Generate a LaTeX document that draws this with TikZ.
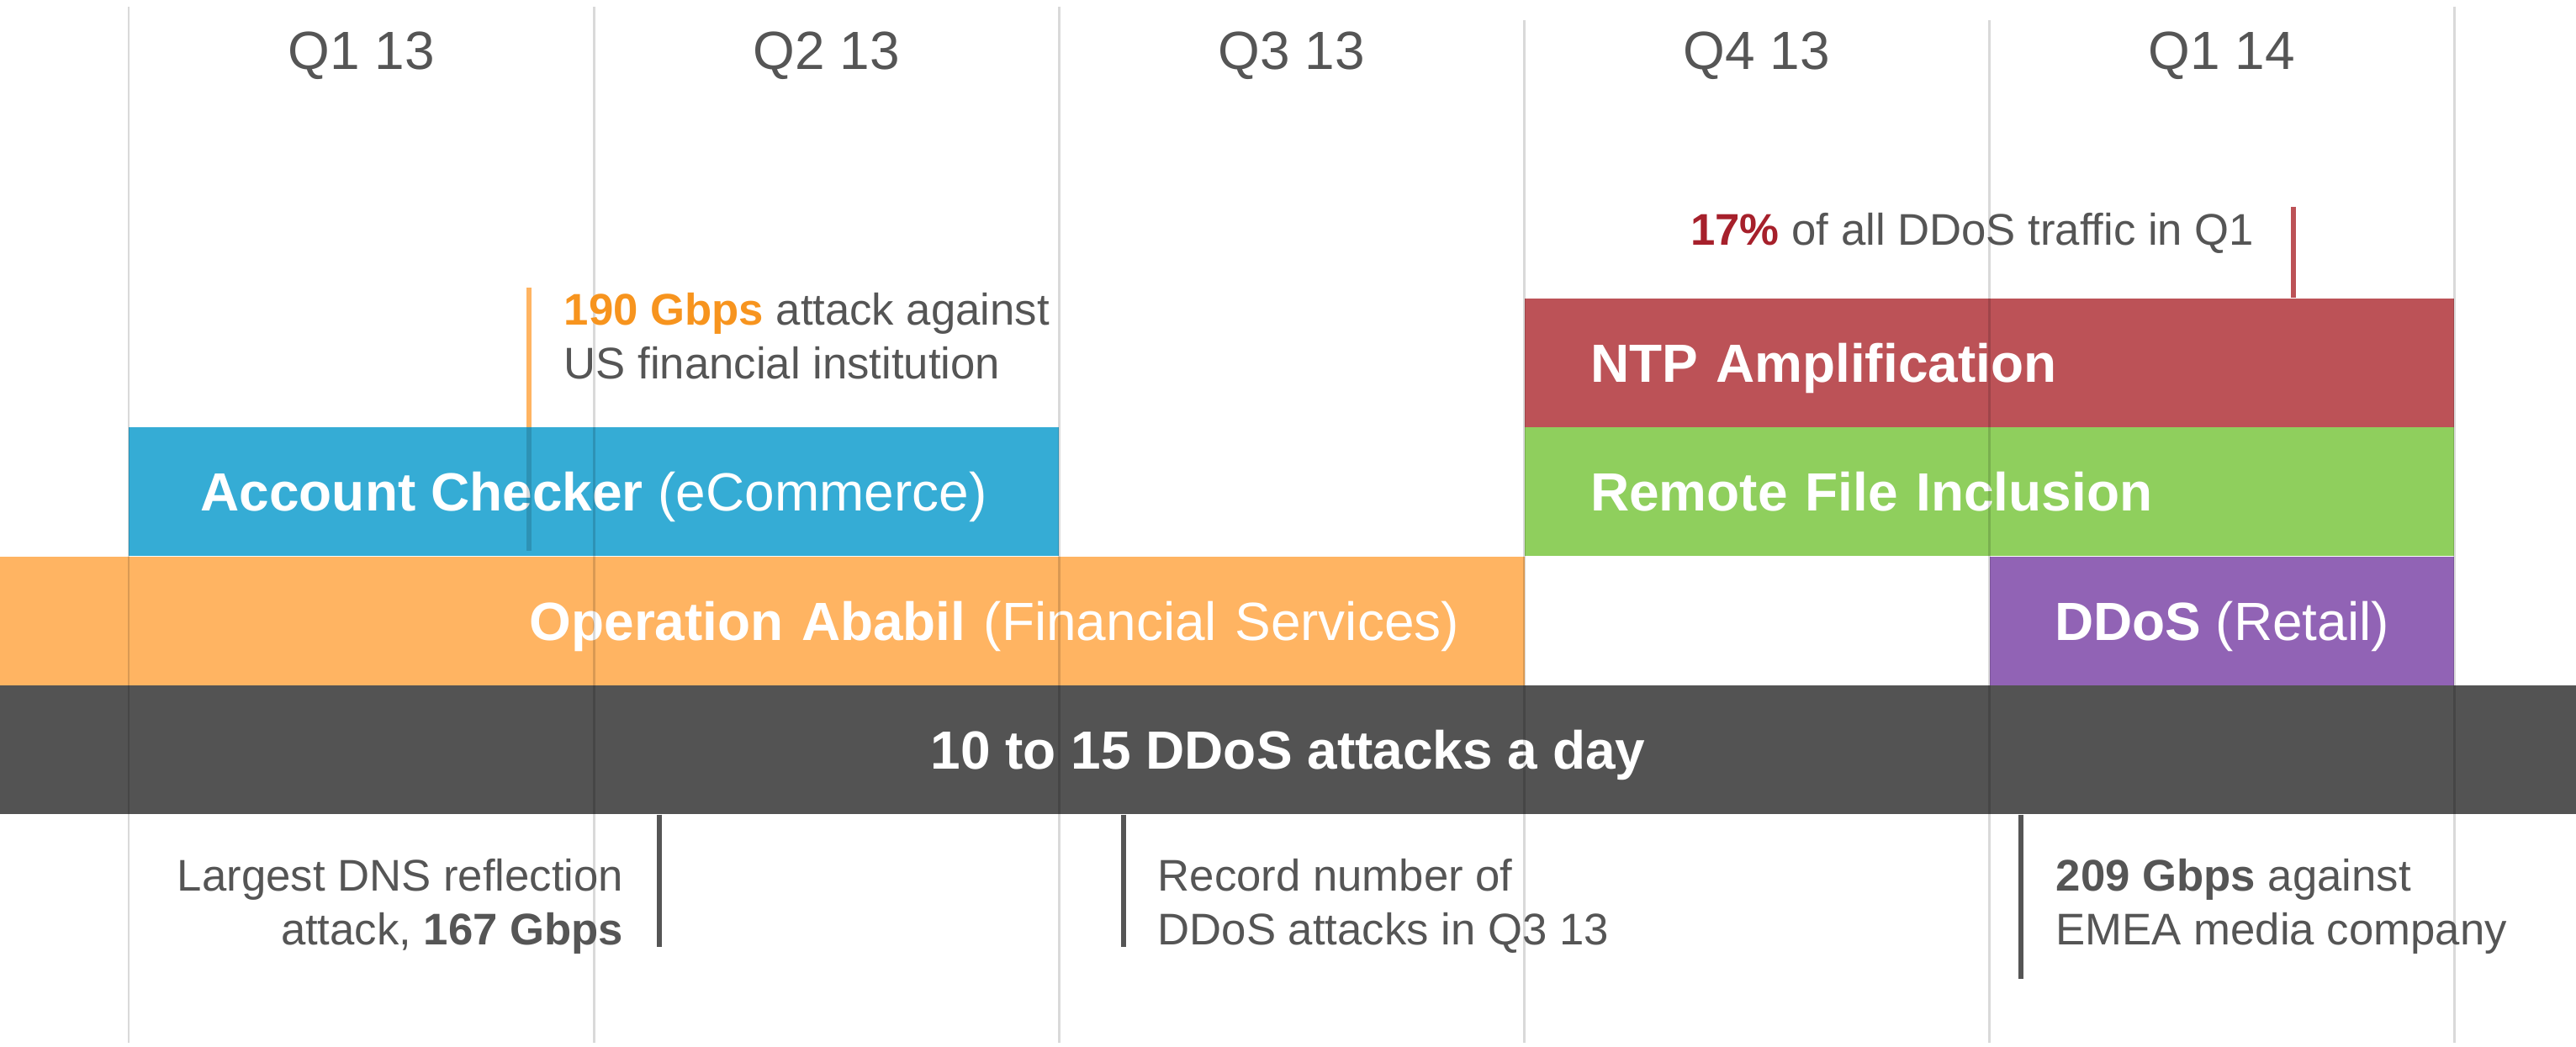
\documentclass[tikz,border=0pt]{standalone}
\usepackage{fontspec}
\setmainfont{Liberation Sans}
\usepackage{xcolor}
\usepackage{tikz}
\usetikzlibrary{positioning}

\definecolor{txtgray}{HTML}{555555}
\definecolor{acblue}{HTML}{35ACD5}
\definecolor{ntpred}{HTML}{BC5257}
\definecolor{rfigreen}{HTML}{8FCF5D}
\definecolor{ababil}{HTML}{FFB462}
\definecolor{retail}{HTML}{9163B5}
\definecolor{daygray}{HTML}{535353}
\definecolor{gbpsorange}{HTML}{F7941E}
\definecolor{pctred}{HTML}{A6202B}

\newcommand{\bandfont}{\fontsize{18.2}{21}\selectfont}
\newcommand{\notefont}{\fontsize{15}{18.2}\selectfont}

\begin{document}
\begin{tikzpicture}[
    band/.style={inner sep=0pt, minimum height=1.53cm, text=white, font=\bandfont, text height=0.46cm, text depth=0pt},
    quarter/.style={anchor=base, text=txtgray, font=\bandfont},
    note/.style={inner sep=0pt, text=txtgray, font=\notefont},
    gridline/.style={black, opacity=0.15, line width=0.85pt},
    tick/.style={line width=1.5pt}
]
    \useasboundingbox (0,0) rectangle (30.63,12.45);

    % Quarter labels
    \node[quarter] (q113) at (4.30,11.62) {Q1 13};
    \node[quarter] (q213) at (9.83,11.62) {Q2 13};
    \node[quarter] (q313) at (15.36,11.62) {Q3 13};
    \node[quarter] (q413) at (20.89,11.62) {Q4 13};
    \node[quarter] (q114) at (26.42,11.62) {Q1 14};

    % Attack bands
    \node[band, fill=ntpred, minimum width=11.05cm, text width=9.49cm, align=left] (ntp) at (23.655,8.135) {\textbf{NTP Amplification}};
    \node[band, fill=rfigreen, minimum width=11.05cm, text width=9.49cm, align=left] (rfi) at (23.655,6.60) {\textbf{Remote File Inclusion}};
    \node[band, fill=acblue, minimum width=11.06cm] (acc) at (7.06,6.60) {\textbf{Account Checker} (eCommerce)};
    \node[band, fill=ababil, minimum width=18.13cm, text width=16.57cm, align=right] (abab) at (9.065,5.065) {\textbf{Operation Ababil} (Financial Services)};
    \node[band, fill=retail, minimum width=5.52cm] (ret) at (26.42,5.065) {\textbf{DDoS} (Retail)};
    \node[band, fill=daygray, minimum width=30.63cm] (day) at (15.315,3.535) {\textbf{10 to 15 DDoS attacks a day}};

    % Quarter grid
    \foreach \x/\t in {1.53/12.37, 7.06/12.37, 12.59/12.37, 18.12/12.21, 23.65/12.21, 29.18/12.37}
        \draw[gridline] (\x,\t) -- (\x,0.05);

    % Upper ticks
    \coordinate (t190top) at (6.29,9.03);
    \coordinate (t190bot) at (6.29,5.90);
    \draw[tick, ababil] (t190top) -- (acc.north -| t190top);
    \draw[gridline, line width=1.5pt] (acc.north -| t190top) -- (t190bot);
    \coordinate (t17top) at (27.27,9.99);
    \draw[tick, ntpred] (t17top) -- (ntp.north -| t17top);

    % Lower ticks
    \coordinate (tdns) at (7.84,1.19);
    \coordinate (trec) at (13.36,1.19);
    \coordinate (t209) at (24.03,0.81);
    \draw[tick, txtgray] (day.south -| tdns) -- (tdns);
    \draw[tick, txtgray] (day.south -| trec) -- (trec);
    \draw[tick, txtgray] (day.south -| t209) -- (t209);

    % Notes
    \node[note, anchor=north west, align=left] (n190) at (6.70,8.97) {\textcolor{gbpsorange}{\textbf{190 Gbps}} attack against\\US financial institution};
    \node[note, anchor=base east] (n17) at (26.81,9.53) {\textcolor{pctred}{\textbf{17\%}} of all DDoS traffic in Q1};
    \node[note, anchor=north east, align=right] (ndns) at (7.42,2.24) {Largest DNS reflection\\attack, \textbf{167 Gbps}};
    \node[note, anchor=north west, align=left] (nrec) at (13.76,2.24) {Record number of\\DDoS attacks in Q3 13};
    \node[note, anchor=north west, align=left] (n209) at (24.44,2.24) {\textbf{209 Gbps} against\\EMEA media company};
\end{tikzpicture}
\end{document}
